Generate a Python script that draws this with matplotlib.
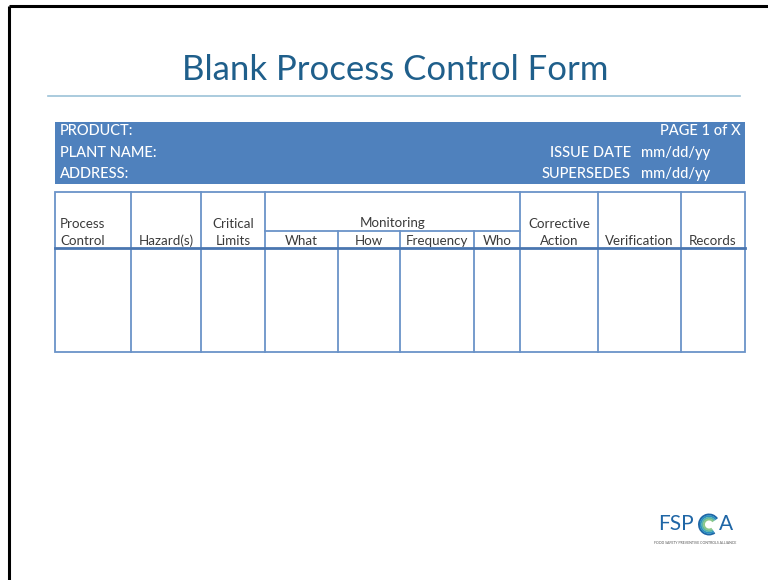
import matplotlib
matplotlib.use("Agg")
import matplotlib.pyplot as plt
from matplotlib.patches import Rectangle, Arc

plt.rcParams['font.family'] = ['Lato', 'DejaVu Sans']

title = "Blank Process Control Form"
left_fields = ["PRODUCT:", "PLANT NAME:", "ADDRESS:"]
right_labels = ["PAGE 1 of X", "ISSUE DATE", "SUPERSEDES"]
right_values = ["", "mm/dd/yy", "mm/dd/yy"]
columns = [["Process", "Control"], ["", "Hazard(s)"], ["Critical", "Limits"],
           ["", "What"], ["", "How"], ["", "Frequency"], ["", "Who"],
           ["Corrective", "Action"], ["", "Verification"], ["", "Records"]]
group_label = "Monitoring"
logo_text = "FOOD SAFETY PREVENTIVE CONTROLS ALLIANCE"

# layout (pixel coords)
col_edges = [55, 131, 201, 265, 338, 400, 474, 520, 598, 681, 745]
W, H = 768, 580

fig = plt.figure(figsize=(W / 100, H / 100), dpi=100)
ax = fig.add_axes([0, 0, 1, 1])
ax.set_xlim(0, W)
ax.set_ylim(H, 0)
ax.axis('off')

# frame (left and top)
ax.plot([8.5, 8.5], [5.5, H], color='black', lw=2.2, solid_capstyle='butt')
ax.plot([8.5, W], [5.5, 5.5], color='black', lw=2.2, solid_capstyle='butt')

# title
ax.text(395, 70, title, color='#1f5f8b', fontsize=25, ha='center', va='center')
ax.plot([48, 740], [96, 96], color='#9cc2d8', lw=1.2)

# blue header box
ax.add_patch(Rectangle((55, 122), 690, 62, facecolor='#4f81bd', edgecolor='none'))
ys = [131, 153, 174]
for y, lf, rl, rv in zip(ys, left_fields, right_labels, right_values):
    ax.text(60, y, lf, color='white', fontsize=10.5, ha='left', va='center', weight='medium')
    if rv:
        ax.text(631, y, rl, color='white', fontsize=10.5, ha='right', va='center', weight='medium')
        ax.text(641, y, rv, color='white', fontsize=10.5, ha='left', va='center', weight='medium')
    else:
        ax.text(741, y, rl, color='white', fontsize=10.5, ha='right', va='center', weight='medium')

# table
top, sub, hdr, bot = 192, 231, 248, 352
lc = '#6a93c8'
ax.add_patch(Rectangle((col_edges[0], top), col_edges[-1] - col_edges[0], bot - top,
                       facecolor='none', edgecolor=lc, lw=1.3))
for i, x in enumerate(col_edges[1:-1], start=1):
    y0 = sub if i in (4, 5, 6) else top
    ax.plot([x, x], [y0, bot], color=lc, lw=1.3)
ax.plot([col_edges[3], col_edges[7]], [sub, sub], color=lc, lw=1.3)
ax.plot([col_edges[0], col_edges[-1]], [hdr, hdr], color='#4a76b0', lw=2.0)

fs = 9.6
tc = '#3a3a3a'
for i, (l1, l2) in enumerate(columns):
    x0, x1 = col_edges[i], col_edges[i + 1]
    if i == 0:
        xc, ha = x0 + 5, 'left'
    else:
        xc, ha = (x0 + x1) / 2, 'center'
    if l1:
        ax.text(xc, 224, l1, color=tc, fontsize=fs, ha=ha, va='center')
    ax.text(xc, 241, l2, color=tc, fontsize=fs, ha=ha, va='center')
ax.text((col_edges[3] + col_edges[7]) / 2, 223, group_label, color=tc, fontsize=fs,
        ha='center', va='center')

# logo
lb = '#1f66a6'
ax.text(658, 524, "FSP", color=lb, fontsize=15, ha='left', va='center')
ax.text(719, 524, "A", color=lb, fontsize=15, ha='left', va='center')
for k, (r, c) in enumerate([(10, '#1f66a6'), (8.3, '#2a8fc0'), (6.6, '#5bb4a8'), (5, '#8cc88a')]):
    ax.add_patch(Arc((709, 524.5), 2 * r, 2 * r, theta1=55, theta2=325, color=c, lw=1.4))
ax.text(695, 543, logo_text, color='#555555', fontsize=2.5, ha='center', va='center')

fig.savefig("out.png", dpi=100)
